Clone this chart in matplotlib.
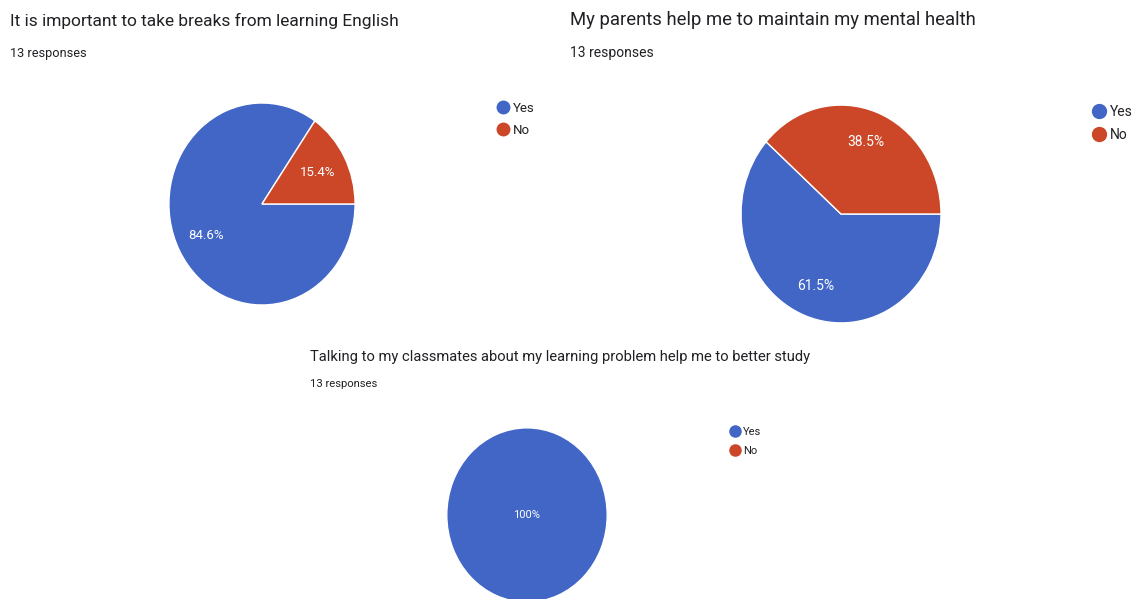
import matplotlib
matplotlib.use('Agg')
import matplotlib.pyplot as plt
from matplotlib.lines import Line2D

plt.rcParams['font.family'] = ['Roboto', 'DejaVu Sans']

# data
labels = ['Yes', 'No']
titles = ['It is important to take breaks from learning English',
          'My parents help me to maintain my mental health',
          'Talking to my classmates about my learning problem help me to better study']
n_responses = [13, 13, 13]
yes_counts = [11, 8, 13]
no_counts = [2, 5, 0]

colors = ['#4166c5', '#cc4628']
W, H = 1134, 599

fig = plt.figure(figsize=(W / 100, H / 100), dpi=100)
fig.patch.set_facecolor('white')

# layout in pixels: pie centre / radii, title pos, legend pos, font sizes
pies = [
    dict(cx=262, cy=204, rx=94, ry=102, tx=10, ty=21, ry_resp=53, tfs=12.5, rfs=9.2,
         lx=496, ly=102, lfs=9.5, ms=9, ls=0.68, pct=0.68, pfs=9.5),
    dict(cx=841, cy=214, rx=101, ry=110, tx=570, ty=20, ry_resp=53, tfs=13.3, rfs=10,
         lx=1092, ly=105, lfs=10, ms=10, ls=0.67, pct=0.71, pfs=10),
    dict(cx=527, cy=515, rx=81, ry=88, tx=310, ty=357, ry_resp=384, tfs=10.6, rfs=8.1,
         lx=729, ly=427, lfs=8, ms=8, ls=0.8, pct=0.0, pfs=8),
]

def fmt(p):
    if p == 0:
        return ''
    if p >= 99.95:
        return '100%'
    return f'{p:.1f}%'

for i, p in enumerate(pies):
    ax = fig.add_axes([(p['cx'] - p['rx']) / W, (H - p['cy'] - p['ry']) / H,
                       2 * p['rx'] / W, 2 * p['ry'] / H])
    vals = [yes_counts[i], no_counts[i]]
    wedges, texts, autotexts = ax.pie(vals, colors=colors, startangle=0, counterclock=False,
                                      autopct=fmt, pctdistance=p['pct'], radius=1,
                                      wedgeprops=dict(edgecolor='white', linewidth=1.0),
                                      textprops=dict(color='white', fontsize=p['pfs']))
    for w, v in zip(wedges, vals):
        if v == 0:
            w.set_visible(False)
    ax.set_aspect('auto')
    ax.set_xlim(-1.01, 1.01)
    ax.set_ylim(-1.01, 1.01)
    ax.axis('off')

    fig.text(p['tx'] / W, 1 - p['ty'] / H, titles[i], fontsize=p['tfs'], color='#202124',
             ha='left', va='center')
    fig.text(p['tx'] / W, 1 - p['ry_resp'] / H, f'{n_responses[i]} responses', fontsize=p['rfs'],
             color='#202124', ha='left', va='center')

    handles = [Line2D([], [], marker='o', linestyle='', markersize=p['ms'],
                      markerfacecolor=c, markeredgecolor=c) for c in colors]
    fig.legend(handles, labels, loc='upper left', frameon=False,
               bbox_to_anchor=(p['lx'] / W, 1 - p['ly'] / H), borderaxespad=0, borderpad=0,
               handlelength=1.0, handletextpad=0.3, labelspacing=p['ls'],
               prop=dict(family=['Roboto', 'DejaVu Sans'], size=p['lfs']), labelcolor='#202124')

fig.savefig('out.png', dpi=100, facecolor='white')
